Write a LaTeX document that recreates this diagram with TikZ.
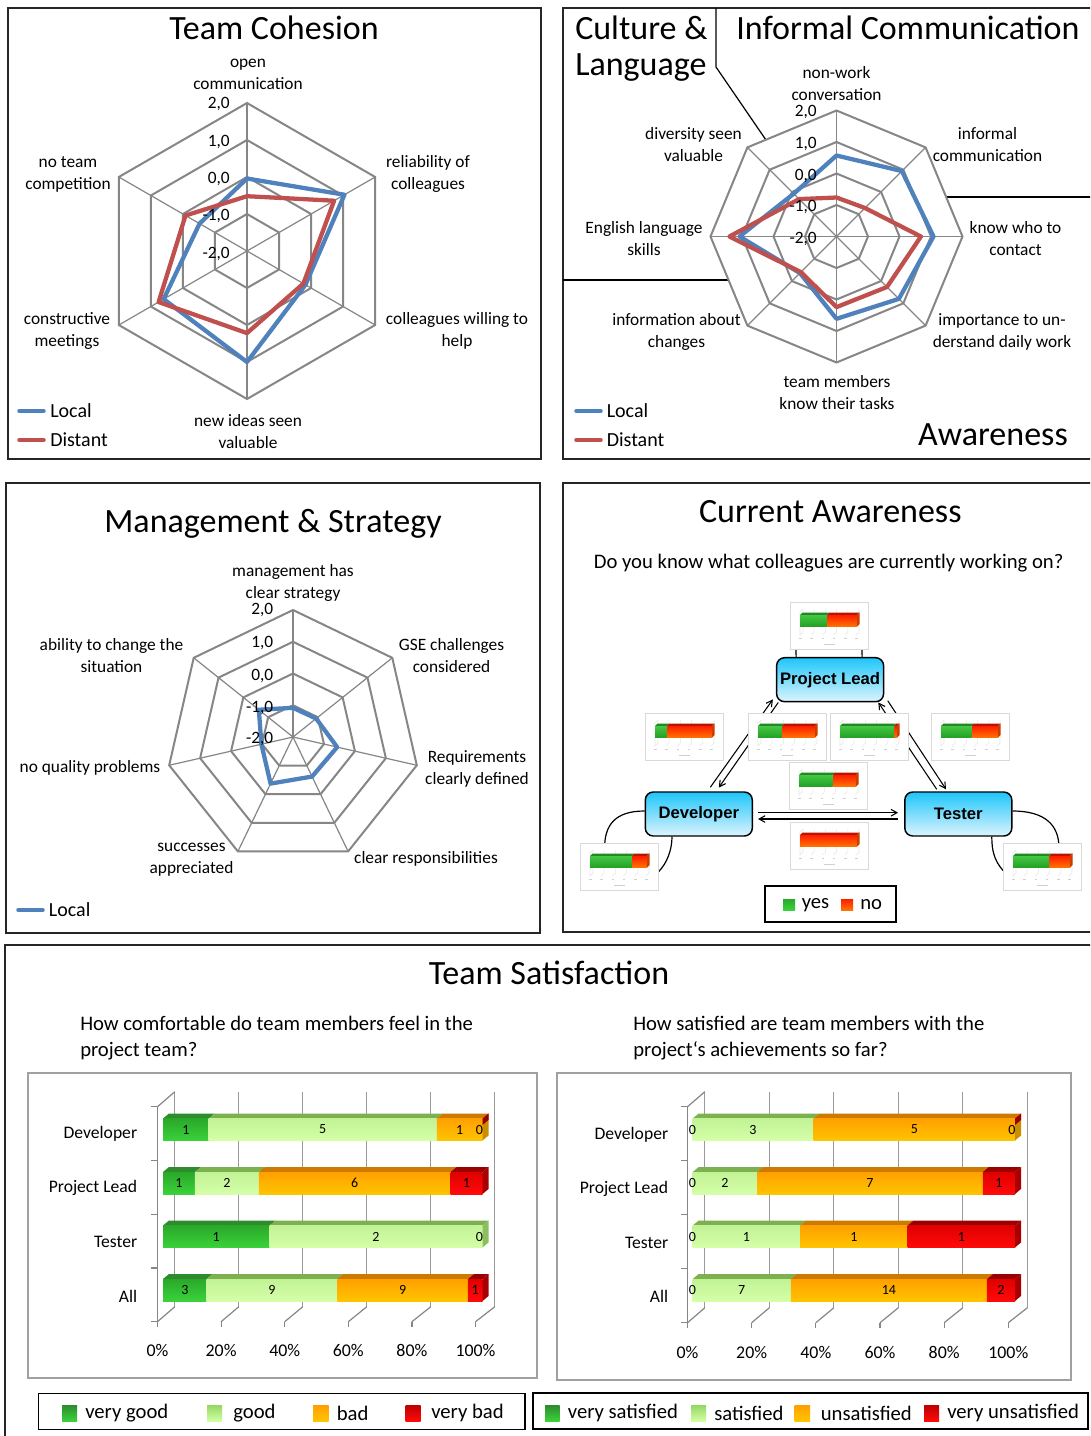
\documentclass[tikz,border=0pt]{standalone}
\usepackage{fontspec}
\setmainfont{Carlito}
\newfontfamily\arialfont{Liberation Sans}
\usetikzlibrary{calc,arrows.meta}
\definecolor{cblue}{HTML}{4F81BD}
\definecolor{cred}{HTML}{C0504D}
\definecolor{gridgray}{HTML}{868686}
\definecolor{axgray}{HTML}{9A9A9A}
\definecolor{boxgray}{HTML}{A0A0A0}
\definecolor{vgA}{HTML}{2AA82A}\definecolor{vgB}{HTML}{3AD23A}\definecolor{vgT}{HTML}{2E8B2E}\definecolor{vgS}{HTML}{23751F}
\definecolor{gA}{HTML}{C2F296}\definecolor{gB}{HTML}{D4FFA8}\definecolor{gT}{HTML}{7DB04E}\definecolor{gS}{HTML}{8CBF5E}
\definecolor{bA}{HTML}{FFA000}\definecolor{bB}{HTML}{FFC400}\definecolor{bT}{HTML}{CC7A00}\definecolor{bS}{HTML}{C98F00}
\definecolor{vbA}{HTML}{E00000}\definecolor{vbB}{HTML}{FF0A0A}\definecolor{vbT}{HTML}{9A0000}\definecolor{vbS}{HTML}{A80000}
\definecolor{lgA}{HTML}{94D862}\definecolor{lgB}{HTML}{D2FFA4}
\definecolor{nodeA}{HTML}{1EC6FA}\definecolor{nodeB}{HTML}{DDF4FD}
\definecolor{thgray}{HTML}{D9D9D9}\definecolor{thline}{HTML}{E6E6E6}\definecolor{thdotc}{HTML}{D0D0D0}
\definecolor{tgA}{HTML}{45C645}\definecolor{tgB}{HTML}{23A023}\definecolor{thG}{HTML}{1F8A1F}
\definecolor{trA}{HTML}{FF1E00}\definecolor{trB}{HTML}{FF7400}\definecolor{thR}{HTML}{B81400}\definecolor{thRS}{HTML}{C84000}
\tikzset{
 panel/.style={draw=black!85, line width=1.1pt},
 divline/.style={draw=black, line width=0.9pt},
 ttl/.style={font=\fontsize{25.5}{29}\selectfont, inner sep=0},
 axlab/.style={font=\fontsize{13}{16.5}\selectfont, align=center, inner sep=0},
 ticklab/.style={font=\fontsize{13}{15}\selectfont, inner sep=0, anchor=east},
 legtext/.style={font=\fontsize{15}{18}\selectfont, inner sep=0, anchor=west},
 ringline/.style={draw=gridgray, line width=1.5pt, line join=miter},
 spoke/.style={draw=gridgray, line width=0.9pt},
 locline/.style={draw=cblue, line width=3.2pt, line join=round},
 distline/.style={draw=cred, line width=3.2pt, line join=round},
 legline/.style={line width=2.6pt, line cap=round},
 role/.style={draw=black, line width=1.1pt, rounded corners=6pt, top color=nodeA, bottom color=nodeB,
   font=\arialfont\bfseries\fontsize{12.5}{14}\selectfont, minimum width=80.25pt, minimum height=33pt, inner sep=0},
 conn/.style={draw=black, line width=0.8pt, -{Straight Barb[length=4.5pt,width=5pt]}},
 selfloop/.style={draw=black, line width=0.9pt},
 thumb/.style={draw=thgray, line width=0.6pt, fill=white, minimum width=58.5pt, minimum height=35.25pt, inner sep=0, anchor=north west},
 thgrid/.style={draw=thline, line width=0.4pt},
 qtext/.style={font=\fontsize{15.5}{19.5}\selectfont, inner sep=0},
 catlab/.style={font=\fontsize{13.2}{15}\selectfont, inner sep=0, anchor=east},
 pctlab/.style={font=\fontsize{13.4}{15}\selectfont, inner sep=0},
 vallab/.style={font=\fontsize{10.5}{12}\selectfont, inner sep=0},
 axg/.style={draw=axgray, line width=0.8pt},
 axd/.style={draw=gridgray, line width=0.9pt},
 chartbox/.style={draw=boxgray, line width=1.4pt},
 legbox/.style={draw=black, line width=1.1pt, inner sep=0},
 legsq/.style={legtext, font=\fontsize{15.5}{18}\selectfont},
}
\newcommand\thumbnail[4]{%
 \node[thumb] (#1) at (#2,#3) {};
 \begin{scope}[shift={(#2,#3)}]
  \foreach \k in {0,...,5}{
   \draw[thgrid] ({13+11.2*\k},7) -- ({13+11.2*\k},30) -- ({10+11.2*\k},33);
   \fill[thdotc] ({9.2+11.2*\k},36.4) rectangle ({11.8+11.2*\k},37.4);
  }
  \draw[thgrid] (13,7) -- (10,10) -- (10,33);
  \fill[thdotc] (34,41.6) rectangle (45,42.6);
  \pgfmathsetmacro\gx{10+57*#4}
  \fill[thR] (\gx,13) -- ({\gx+2.5},10.5) -- (69.5,10.5) -- (67,13) -- cycle;
  \shade[top color=trA, bottom color=trB] (\gx,13) rectangle (67,24.5);
  \fill[thRS] (67,13) -- (69.5,10.5) -- (69.5,22) -- (67,24.5) -- cycle;
  \ifdim #4pt>0pt
   \fill[thG] (10,13) -- (12.5,10.5) -- ({\gx+2.5},10.5) -- (\gx,13) -- cycle;
   \shade[top color=tgA, bottom color=tgB] (10,13) rectangle (\gx,24.5);
  \fi
 \end{scope}}
\newcommand\seg[5]{%
 \fill[#5T] (#1,#3) -- ({#1+6},{#3-5}) -- ({#2+6},{#3-5}) -- (#2,#3) -- cycle;
 \shade[top color=#5A, bottom color=#5B] (#1,#3) rectangle (#2,#4);}
\newcommand\sidef[4]{%
 \fill[#4] (#1,#2) -- ({#1+6},{#2-5}) -- ({#1+6},{#3-5}) -- (#1,#3) -- cycle;}
\begin{document}
\begin{tikzpicture}[x=0.75pt,y=-0.75pt]
\useasboundingbox (0,0) rectangle (1090,1436);
\clip (0,0) rectangle (1090,1436);
\fill[white] (0,0) rectangle (1090,1436);

%% ---------- Panel 1: Team Cohesion
\draw[panel] (8,8) rectangle (541,459);
\node[ttl] (t1) at (274,28) {Team Cohesion};
\begin{scope}[shift={(247,251)}]
 \foreach \l in {37,74,111,148}
  \draw[ringline] (-90:\l) \foreach \a in {-30,30,90,150,210}{ -- (\a:\l)} -- cycle;
 \foreach \a in {-90,-30,30,90,150,210} \draw[spoke] (0,0) -- (\a:148);
 \draw[locline] (-90:72.5) -- (-30:112.5) -- (30:67.5) -- (90:111) -- (150:96.2) -- (210:54.8) -- cycle;
 \draw[distline] (-90:54.8) -- (-30:100.6) -- (30:65.1) -- (90:82.1) -- (150:102.1) -- (210:71) -- cycle;
\end{scope}
\node[ticklab] (k1a) at (230,104) {2,0};
\node[ticklab] (k1b) at (230,141.5) {1,0};
\node[ticklab] (k1c) at (230,179) {0,0};
\node[ticklab] (k1d) at (230,216) {-1,0};
\node[ticklab] (k1e) at (230,253.5) {-2,0};
\node[axlab] (l1a) at (248,74) {open\\communication};
\node[axlab] (l1b) at (428,174) {reliability of\\colleagues};
\node[axlab] (l1c) at (457,331) {colleagues willing to\\help};
\node[axlab] (l1d) at (248,431.5) {new ideas seen\\valuable};
\node[axlab] (l1e) at (67,331) {constructive\\meetings};
\node[axlab] (l1f) at (68,174) {no team\\competition};
\draw[legline, cblue] (19,411) -- (44,411);
\draw[legline, cred] (19,440) -- (44,440);
\node[legtext] (g1a) at (50,411) {Local};
\node[legtext] (g1b) at (50,440) {Distant};

%% ---------- Panel 2
\draw[panel] (563,8) rectangle (1100,459);
\draw[divline] (716,8) -- (716,67) -- (766,140);
\draw[divline] (563,280) -- (728.5,280);
\draw[divline] (946.2,197) -- (1100,197);
\node[ttl, anchor=west] (t2a) at (575,28) {Culture \&};
\node[ttl, anchor=west] (t2b) at (575,68) {Language};
\node[ttl, anchor=west] (t2c) at (736,28) {Informal Communication};
\node[ttl, anchor=east] (t2d) at (1068,435) {Awareness};
\begin{scope}[shift={(836.5,236.5)}]
 \foreach \l in {31.5,63,94.5,126}
  \draw[ringline] (-90:\l) \foreach \a in {-45,0,45,90,135,180,225}{ -- (\a:\l)} -- cycle;
 \foreach \a in {-90,-45,0,45,90,135,180,225} \draw[spoke] (0,0) -- (\a:126);
 \draw[locline] (-90:81) -- (-45:92.5) -- (0:97) -- (45:88.2) -- (90:82.3) -- (135:51.7) -- (180:97) -- (225:60.5) -- cycle;
 \draw[distline] (-90:39) -- (-45:40.3) -- (0:84.4) -- (45:71.4) -- (90:70.6) -- (135:50.4) -- (180:107.1) -- (225:52.9) -- cycle;
\end{scope}
\node[ticklab] (k2a) at (817,112) {2,0};
\node[ticklab] (k2b) at (817,144) {1,0};
\node[ticklab] (k2c) at (817,175.7) {0,0};
\node[ticklab] (k2d) at (817,207) {-1,0};
\node[ticklab] (k2e) at (817,238.5) {-2,0};
\node[axlab] (l2a) at (836.5,84) {non-work\\conversation};
\node[axlab] (l2b) at (987.5,144.5) {informal\\communication};
\node[axlab] (l2c) at (1015.5,238.5) {know who to\\contact};
\node[axlab] (l2d) at (1002,332) {importance to un-\\derstand daily work};
\node[axlab] (l2e) at (837,392.5) {team members\\know their tasks};
\node[axlab] (l2f) at (676.5,332) {information about\\changes};
\node[axlab] (l2g) at (644,238.5) {English language\\skills};
\node[axlab] (l2h) at (693.5,144.5) {diversity seen\\valuable};
\draw[legline, cblue] (576,411) -- (601,411);
\draw[legline, cred] (576,440) -- (601,440);
\node[legtext] (g2a) at (606.5,411) {Local};
\node[legtext] (g2b) at (606.5,440) {Distant};

%% ---------- Panel 3: Management & Strategy
\draw[panel] (6,483) rectangle (540,933);
\node[ttl] (t3) at (273,523.5) {Management \& Strategy};
\begin{scope}[shift={(293,737)}]
 \foreach \l in {31.75,63.5,95.25,127}
  \draw[ringline] (-90:\l) \foreach \k in {1,...,6}{ -- ({-90+\k*360/7}:\l)} -- cycle;
 \foreach \k in {0,...,6} \draw[spoke] (0,0) -- ({-90+\k*360/7}:127);
 \draw[locline] (-90:29.2) -- (-38.571:29.6) -- (12.857:45.3) -- (64.286:43.9) -- (115.714:51.7) -- (167.143:32.4) -- (218.571:43.7) -- cycle;
\end{scope}
\node[ticklab] (k3a) at (273.5,610) {2,0};
\node[ticklab] (k3b) at (273.5,643) {1,0};
\node[ticklab] (k3c) at (273.5,676) {0,0};
\node[ticklab] (k3d) at (273.5,707.5) {-1,0};
\node[ticklab] (k3e) at (273.5,739) {-2,0};
\node[axlab] (l3a) at (293,582.5) {management has\\clear strategy};
\node[axlab] (l3b) at (451.5,656) {GSE challenges\\considered};
\node[axlab] (l3c) at (477,768.5) {Requirements\\clearly defined};
\node[axlab] (l3d) at (426,859) {clear responsibilities};
\node[axlab] (l3e) at (191.5,860) {successes\\appreciated};
\node[axlab] (l3f) at (90,768) {no quality problems};
\node[axlab] (l3g) at (111.5,656) {ability to change the\\situation};
\draw[legline, cblue] (18,910) -- (43,910);
\node[legtext] (g3a) at (48.7,910) {Local};

%% ---------- Panel 4: Current Awareness
\draw[panel] (563,483) rectangle (1100,932);
\node[ttl] (t4) at (830.3,512) {Current Awareness};
\node[qtext] (q4) at (828.6,563) {Do you know what colleagues are currently working on?};
\node[role] (pl) at (830.1,679.7) {Project Lead};
\node[role] (dev) at (698.8,814) {Developer};
\node[role] (tes) at (958.3,814) {Tester};
\draw[conn] ([shift={(11.5,-4)}]dev.north) -- ([shift={(-3,-3)}]pl.south west);
\draw[conn] ([shift={(2.4,0)}]pl.south west) -- ([shift={(20,-3.7)}]dev.north);
\draw[conn] ([shift={(-21.6,-2)}]tes.north) -- ([shift={(-6,0)}]pl.south east);
\draw[conn] ([shift={(3.4,-1.7)}]pl.south east) -- ([shift={(-12.3,-2)}]tes.north);
\draw[conn] ([shift={(5,-1.3)}]dev.east) -- ([shift={(-6,-1.3)}]tes.west);
\draw[conn] ([shift={(-6,5)}]tes.west) -- ([shift={(5,5)}]dev.east);
\draw[selfloop] ([shift={(-34,0)}]pl.north) -- (796,630) -- (862,630) -- ([shift={(32,0)}]pl.north);
\draw[selfloop] ([shift={(0,-3)}]dev.west) .. controls (615,811) and (604.6,825) .. (604.6,848) -- (604.6,865)
   .. controls (604.6,880) and (645,885) .. (658.6,871.7) .. controls (667,863) and (672,850) .. ([shift={(-26.8,0)}]dev.south);
\draw[selfloop] ([shift={(0,-3)}]tes.east) .. controls (1045,811) and (1059,825) .. (1059,848) -- (1059,865)
   .. controls (1059,880) and (1015,885) .. (1002.6,870) .. controls (994,860) and (991.8,850) .. ([shift={(33.5,0)}]tes.south);
\thumbnail{thTop}{790}{602}{0.47}
\thumbnail{thL}{645}{713}{0.21}
\thumbnail{thCL}{748}{713}{0.42}
\thumbnail{thCR}{830}{713}{0.95}
\thumbnail{thR}{931}{713}{0.535}
\thumbnail{thC}{789}{762}{0.59}
\thumbnail{thB}{790}{822}{0}
\thumbnail{thDev}{580}{843}{0.735}
\thumbnail{thTes}{1003}{843}{0.635}
\node[legbox, minimum width=98.25pt, minimum height=27pt] (lg4) at (830.5,904) {};
\shade[top color=vgA, bottom color=vgB] (783,899) rectangle (795,910);
\node[legsq] (lg4a) at (801.5,905) {yes};
\shade[top color=trA, bottom color=trB] (841,899) rectangle (853,910);
\node[legsq] (lg4b) at (860,905) {no};

%% ---------- Panel 5: Team Satisfaction
\draw[panel] (5,945) rectangle (1100,1450);
\node[ttl] (t5) at (549,973) {Team Satisfaction};
\node[qtext, align=left, anchor=west] (q5a) at (80,1038) {How comfortable do team members feel in the\\project team?};
\node[qtext, align=left, anchor=west] (q5b) at (633,1038) {How satisfied are team members with the\\project‘s achievements so far?};

% chart 1
\draw[chartbox] (28,1073) rectangle (537,1378);
\foreach \k/\p in {0/0,1/20,2/40,3/60,4/80,5/100}{
 \draw[axg] ({174.8+64*\k},1091.7) -- ({174.8+64*\k},1306.7);
 \draw[axd] ({157.5+63.6*\k},1321.7) -- ({174.8+64*\k},1306.7);
 \draw[axd] ({157.5+63.6*\k},1321.7) -- ({157.5+63.6*\k},1327);
 \node[pctlab] (p1-\k) at ({157.5+63.6*\k},1350.7) {\p\%};
}
\draw[axd] (157.5,1106.7) -- (157.5,1321.7);
\draw[axd] (157.5,1106.7) -- (174.8,1091.7);
\foreach \y in {1106.7,1160.45,1214.2,1267.95,1321.7} \draw[axd] (151,\y) -- (157.5,\y);
\seg{163}{208.64}{1118.5}{1140.5}{vg}\seg{208.64}{436.86}{1118.5}{1140.5}{g}\seg{436.86}{482.5}{1118.5}{1140.5}{b}
\sidef{482.5}{1118.5}{1140.5}{bS}
\fill[vbT] (482.5,1118.5) -- (488.5,1113.5) -- (488.5,1120) -- (482.5,1125) -- cycle;
\seg{163}{194.95}{1172}{1194}{vg}\seg{194.95}{258.85}{1172}{1194}{g}\seg{258.85}{450.55}{1172}{1194}{b}\seg{450.55}{482.5}{1172}{1194}{vb}
\sidef{482.5}{1172}{1194}{vbS}
\seg{163}{269.5}{1225.5}{1247.5}{vg}\seg{269.5}{482.5}{1225.5}{1247.5}{g}
\sidef{482.5}{1225.5}{1247.5}{gS}
\seg{163}{206.57}{1279}{1301}{vg}\seg{206.57}{337.27}{1279}{1301}{g}\seg{337.27}{467.98}{1279}{1301}{b}\seg{467.98}{482.5}{1279}{1301}{vb}
\sidef{482.5}{1279}{1301}{vbS}
\node[vallab] (v1a) at (185.8,1129.5) {1};
\node[vallab] (v1b) at (322.7,1129.5) {5};
\node[vallab] (v1c) at (459.7,1129.5) {1};
\node[vallab] (v1d) at (479.5,1129.5) {0};
\node[vallab] (v1e) at (179,1183) {1};
\node[vallab] (v1f) at (226.9,1183) {2};
\node[vallab] (v1g) at (354.7,1183) {6};
\node[vallab] (v1h) at (466.5,1183) {1};
\node[vallab] (v1i) at (216.25,1236.5) {1};
\node[vallab] (v1j) at (376,1236.5) {2};
\node[vallab] (v1k) at (479.5,1236.5) {0};
\node[vallab] (v1l) at (184.8,1290) {3};
\node[vallab] (v1m) at (271.9,1290) {9};
\node[vallab] (v1n) at (402.6,1290) {9};
\node[vallab] (v1o) at (475.2,1290) {1};
\node[catlab] (c1a) at (137.4,1133.5) {Developer};
\node[catlab] (c1b) at (137.4,1188) {Project Lead};
\node[catlab] (c1c) at (137.4,1242) {Tester};
\node[catlab] (c1d) at (137.4,1296) {All};

% chart 2
\draw[chartbox] (557,1073) rectangle (1071,1380);
\foreach \k/\p in {0/0,1/20,2/40,3/60,4/80,5/100}{
 \draw[axg] ({704.9+64.5*\k},1091.7) -- ({704.9+64.5*\k},1307.7);
 \draw[axd] ({687.5+64.16*\k},1322.7) -- ({704.9+64.5*\k},1307.7);
 \draw[axd] ({687.5+64.16*\k},1322.7) -- ({687.5+64.16*\k},1328);
 \node[pctlab] (p2-\k) at ({687.5+64.16*\k},1352.7) {\p\%};
}
\draw[axd] (687.5,1106.7) -- (687.5,1322.7);
\draw[axd] (687.5,1106.7) -- (704.9,1091.7);
\foreach \y in {1106.7,1160.7,1214.7,1268.7,1322.7} \draw[axd] (681,\y) -- (687.5,\y);
\seg{692.7}{813.56}{1118.5}{1140.5}{g}\seg{813.56}{1015}{1118.5}{1140.5}{b}
\sidef{1015}{1118.5}{1140.5}{bS}
\fill[vbT] (1015,1118.5) -- (1021,1113.5) -- (1021,1120) -- (1015,1125) -- cycle;
\seg{692.7}{757.16}{1172}{1194}{g}\seg{757.16}{982.77}{1172}{1194}{b}\seg{982.77}{1015}{1172}{1194}{vb}
\sidef{1015}{1172}{1194}{vbS}
\seg{692.7}{800.13}{1225.5}{1247.5}{g}\seg{800.13}{907.57}{1225.5}{1247.5}{b}\seg{907.57}{1015}{1225.5}{1247.5}{vb}
\sidef{1015}{1225.5}{1247.5}{vbS}
\seg{692.7}{790.79}{1279}{1301}{g}\seg{790.79}{986.97}{1279}{1301}{b}\seg{986.97}{1015}{1279}{1301}{vb}
\sidef{1015}{1279}{1301}{vbS}
\node[vallab] (v2a) at (692.5,1129.5) {0};
\node[vallab] (v2b) at (753,1129.5) {3};
\node[vallab] (v2c) at (914.3,1129.5) {5};
\node[vallab] (v2d) at (1012,1129.5) {0};
\node[vallab] (v2e) at (692.5,1183) {0};
\node[vallab] (v2f) at (725,1183) {2};
\node[vallab] (v2g) at (870,1183) {7};
\node[vallab] (v2h) at (999,1183) {1};
\node[vallab] (v2i) at (692.5,1236.5) {0};
\node[vallab] (v2j) at (746.4,1236.5) {1};
\node[vallab] (v2k) at (853.8,1236.5) {1};
\node[vallab] (v2l) at (961.3,1236.5) {1};
\node[vallab] (v2m) at (692.5,1290) {0};
\node[vallab] (v2n) at (741.7,1290) {7};
\node[vallab] (v2o) at (888.9,1290) {14};
\node[vallab] (v2p) at (1001,1290) {2};
\node[catlab] (c2a) at (668.4,1134.5) {Developer};
\node[catlab] (c2b) at (668.4,1188.5) {Project Lead};
\node[catlab] (c2c) at (668.4,1242.5) {Tester};
\node[catlab] (c2d) at (668.4,1296.5) {All};

% legends
\node[legbox, minimum width=365pt, minimum height=27pt] (lg5a) at (281.65,1411.3) {};
\shade[top color=vgT, bottom color=vgB] (62,1405) rectangle (77,1421);
\node[legsq] (lg5a1) at (85,1413) {very good};
\shade[top color=lgA, bottom color=lgB] (207,1405) rectangle (222,1421);
\node[legsq] (lg5a2) at (233,1413) {good};
\shade[top color=bA, bottom color=bB] (313,1405) rectangle (328.5,1421);
\node[legsq] (lg5a3) at (336.5,1413) {bad};
\shade[top color=vbA!85!black, bottom color=vbB] (405.6,1405) rectangle (420.6,1421);
\node[legsq] (lg5a4) at (431,1413) {very bad};
\node[legbox, minimum width=416.25pt, minimum height=27pt] (lg5b) at (810.5,1411) {};
\shade[top color=vgT, bottom color=vgB] (545,1405) rectangle (559.6,1421);
\node[legsq] (lg5b1) at (567.6,1413) {very satisfied};
\shade[top color=lgA, bottom color=lgB] (691,1405) rectangle (706,1421);
\node[legsq] (lg5b2) at (714,1413) {satisfied};
\shade[top color=bA, bottom color=bB] (794.6,1405) rectangle (810,1421);
\node[legsq] (lg5b3) at (820.6,1413) {unsatisfied};
\shade[top color=vbA!85!black, bottom color=vbB] (924,1405) rectangle (939,1421);
\node[legsq] (lg5b4) at (947,1413) {very unsatisfied};
\end{tikzpicture}
\end{document}
